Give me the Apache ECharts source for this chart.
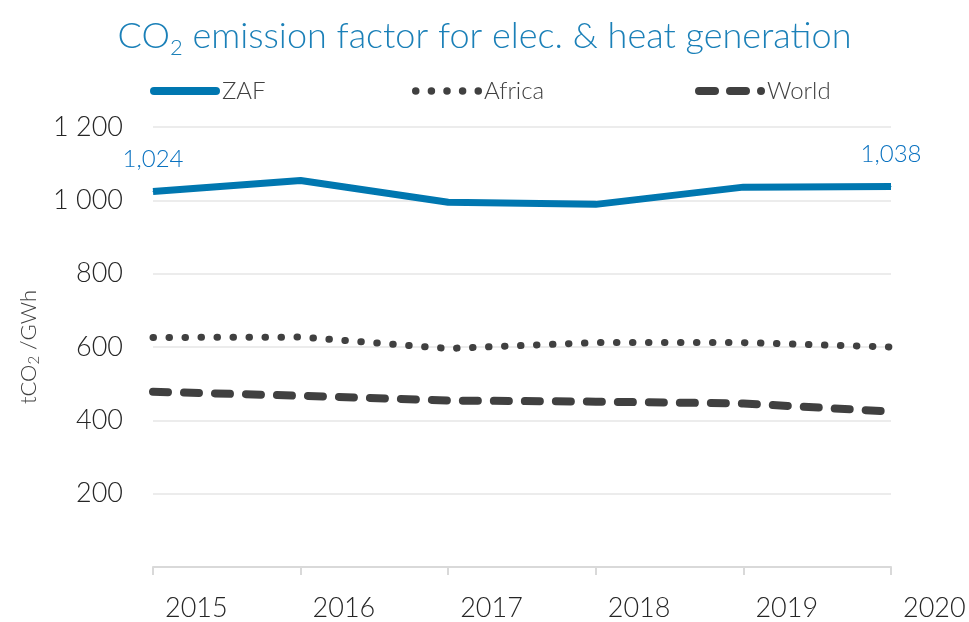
<!DOCTYPE html>
<html><head><meta charset="utf-8">
<script src="https://cdn.jsdelivr.net/npm/echarts@6/dist/echarts.min.js"></script>
<style>html,body{margin:0;padding:0;background:#fff}#c{width:969px;height:622px}</style>
</head><body><div id="c"></div>
<script>
const years = ['2015','2016','2017','2018','2019','2020'];
const zaf = [1024, 1054, 995, 989, 1036, 1038];
const africa = [626, 627, 596, 612, 612, 600];
const world = [478, 467, 454, 451, 446, 424];
const yTicks = [0, 200, 400, 600, 800, 1000, 1200];

const FONT = 'Lato';
const chart = echarts.init(document.getElementById('c'));
function fmtSpace(v){ return String(v).replace(/\B(?=(\d{3})+(?!\d))/g, ' '); }
function fmtComma(v){ return String(v).replace(/\B(?=(\d{3})+(?!\d))/g, ','); }

function circ(cx, cy, r){
  return 'M' + (cx - r) + ',' + cy + ' A' + r + ',' + r + ' 0 1 0 ' + (cx + r) + ',' + cy +
         ' A' + r + ',' + r + ' 0 1 0 ' + (cx - r) + ',' + cy + ' Z ';
}
function pill(x0, x1, h){
  const r = h / 2;
  return 'M' + (x0 + r) + ',0 L' + (x1 - r) + ',0 A' + r + ',' + r + ' 0 0 1 ' + (x1 - r) + ',' + h +
         ' L' + (x0 + r) + ',' + h + ' A' + r + ',' + r + ' 0 0 1 ' + (x0 + r) + ',0 Z ';
}
const iconZAF = 'path://' + pill(0, 70, 8);
const iconAfrica = 'path://' + [3.75, 19.4, 35, 50.6, 66.25].map(c => circ(c, 4, 3.75)).join('');
const iconWorld = 'path://' + pill(0, 24, 8) + pill(31, 55, 8) + circ(66, 4, 4);

const legendText = { fontSize: 24, color: '#404040', fontWeight: 300, padding: [0,0,0,-3] };

chart.setOption({
  animation: false,
  textStyle: { fontFamily: FONT },
  title: {
    text: 'CO{sub|2} emission factor for elec. & heat generation',
    left: 'center', top: 8,
    textStyle: {
      color: '#1b80b8', fontSize: 36, fontWeight: 300, fontFamily: FONT,
      rich: { sub: { fontSize: 22, color: '#1b80b8', fontWeight: 300, padding: [24, 0, 0, 0], fontFamily: FONT } }
    }
  },
  legend: [
    { data: [{ name: 'ZAF', icon: iconZAF, itemStyle: { color: '#0077b0' } }], left: 145, top: 74,
      itemWidth: 70, itemHeight: 8, textStyle: legendText },
    { data: [{ name: 'Africa', icon: iconAfrica, itemStyle: { color: '#404040' } }], left: 407, top: 74,
      itemWidth: 70, itemHeight: 8, textStyle: legendText },
    { data: [{ name: 'World', icon: iconWorld, itemStyle: { color: '#404040' } }], left: 690, top: 74,
      itemWidth: 70, itemHeight: 8, textStyle: legendText }
  ],
  grid: { left: 153, right: 78, top: 127, bottom: 52, containLabel: false },
  xAxis: {
    type: 'category', data: years, boundaryGap: false,
    axisLine: { lineStyle: { color: '#d9d9d9', width: 2 } },
    axisTick: { show: true, length: 8, lineStyle: { color: '#d9d9d9', width: 2 } },
    axisLabel: { color: '#262626', fontSize: 27, fontWeight: 300, align: 'left', margin: 28, padding: [0,0,0,12] },
    splitLine: { show: false }
  },
  yAxis: {
    type: 'value', min: yTicks[0], max: yTicks[yTicks.length-1], interval: 200,
    name: 'tCO{sub|2} /GWh', nameLocation: 'middle', nameGap: 100, nameRotate: 90,
    nameTextStyle: { color: '#404040', fontSize: 22, fontWeight: 300,
      rich: { sub: { fontSize: 15, color: '#404040', fontWeight: 300, padding: [12,0,0,0] } } },
    axisLine: { show: false }, axisTick: { show: false },
    axisLabel: { color: '#262626', fontSize: 27, fontWeight: 300, margin: 30,
      formatter: v => v === 0 ? '' : fmtSpace(v) },
    splitLine: { lineStyle: { color: '#ececec', width: 2 } }
  },
  series: [
    { name: 'ZAF', type: 'line', data: zaf, symbol: 'circle', symbolSize: 1, showSymbol: true, z: 5,
      itemStyle: { color: '#0077b0' },
      lineStyle: { color: '#0077b0', width: 7 },
      label: { show: true, position: 'top', distance: 20, color: '#0a72c0', fontSize: 24, fontWeight: 300,
        formatter: p => (p.dataIndex === 0 || p.dataIndex === years.length-1) ? fmtComma(p.value) : '' } },
    { name: 'Africa', type: 'line', data: africa, symbol: 'none',
      itemStyle: { color: '#404040' },
      lineStyle: { color: '#404040', width: 7, type: [0.5, 15.5], cap: 'round' } },
    { name: 'World', type: 'line', data: world, symbol: 'none',
      itemStyle: { color: '#404040' },
      lineStyle: { color: '#404040', width: 8, type: [15, 16], cap: 'round' } }
  ]
});
</script></body></html>
